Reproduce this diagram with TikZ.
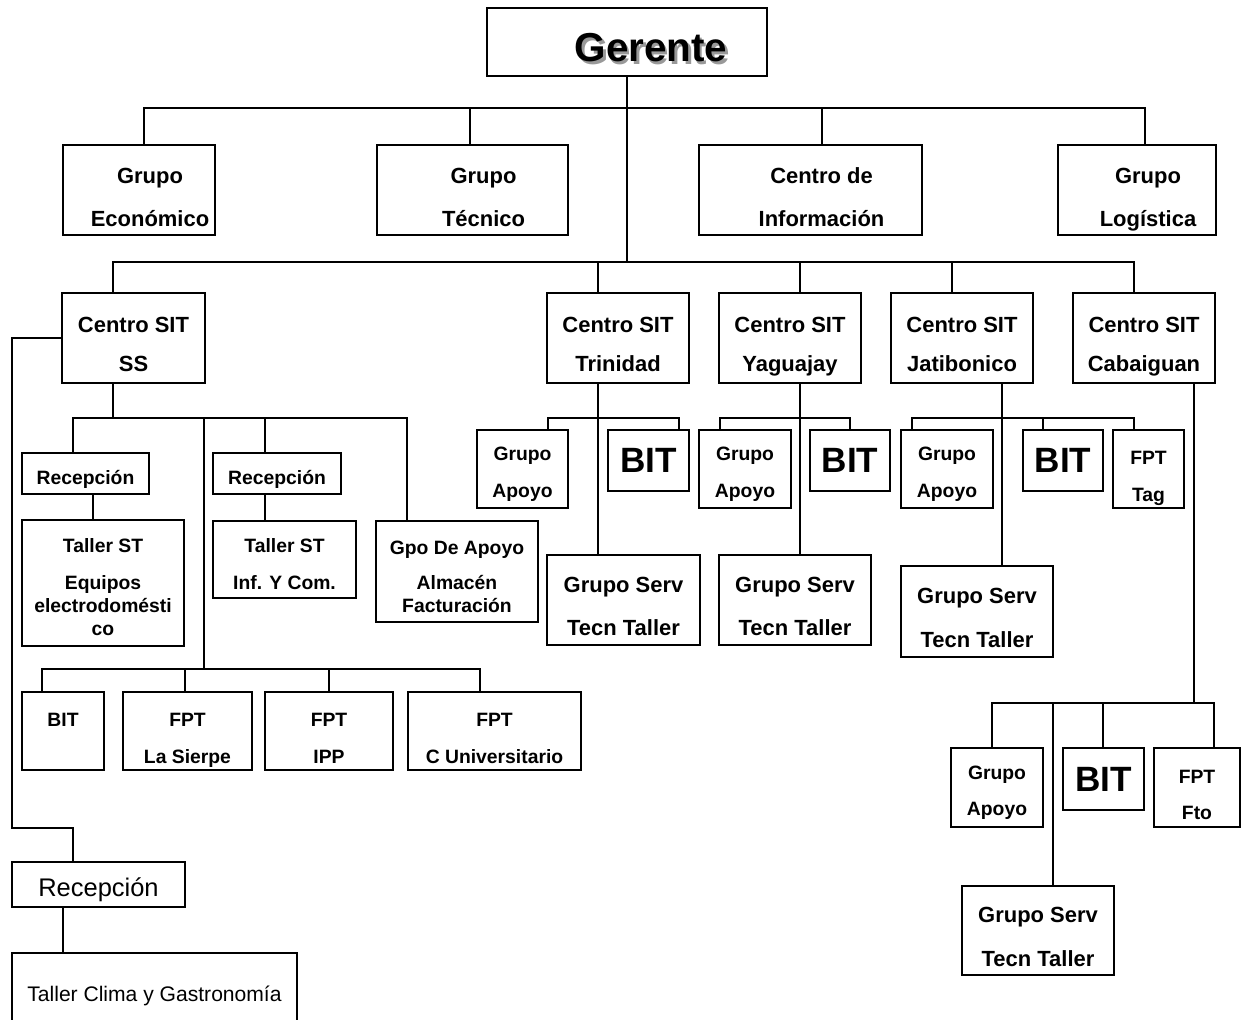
\documentclass[tikz,border=0pt]{standalone}
\usepackage{fontspec}
\setmainfont{Liberation Sans}
\newcommand{\txtpush}{\hspace*{0.44cm}}
\tikzset{
  box/.style={draw, line width=1.1pt, inner sep=0pt, align=center, text depth=0pt},
  dept/.style={box, minimum height=1.8cm, text height=41.5pt, font=\bfseries\fontsize{12.5}{24.4}\selectfont},
  centro/.style={box, minimum width=2.84cm, minimum height=1.8cm, text height=38.6pt, font=\bfseries\fontsize{12.5}{22.7}\selectfont},
  smallbox/.style={box, text height=12.5pt, font=\bfseries\fontsize{11}{21}\selectfont},
  servbox/.style={box, minimum width=3.04cm, minimum height=1.8cm, text height=40.9pt, font=\bfseries\fontsize{12.5}{25}\selectfont},
  apoyo/.style={smallbox, minimum width=1.84cm, minimum height=1.56cm, text height=32.4pt},
  bitbox/.style={box, minimum width=1.6cm, minimum height=1.22cm, font=\bfseries\fontsize{20}{20}\selectfont},
  fptbox/.style={smallbox, minimum height=1.56cm, text height=36.9pt},
}
\begin{document}
\begin{tikzpicture}[x=0.02cm, y=-0.02cm, line width=1.1pt]
  \useasboundingbox (0,0) rectangle (1250,1019);
  % gerencia
  \node[text=black!40, text depth=0pt, text height=22.4pt, minimum height=1.36cm, inner sep=0pt, font=\bfseries\fontsize{23}{23}\selectfont] (gersh) at (629.5,44.5) {\hspace*{0.96cm}Gerente};
  \node[box, minimum width=5.6cm, minimum height=1.36cm, text height=22.4pt, font=\bfseries\fontsize{23}{23}\selectfont] (ger) at (627,42) {\hspace*{0.96cm}Gerente};
  \node[dept, minimum width=3.04cm] (eco) at (139,190) {\txtpush Grupo\\\txtpush Económico};
  \node[dept, minimum width=3.82cm] (tec) at (472.5,190) {\txtpush Grupo\\\txtpush Técnico};
  \node[dept, minimum width=4.46cm] (inf) at (810.5,190) {\txtpush Centro de\\\txtpush Información};
  \node[dept, minimum width=3.16cm] (log) at (1137,190) {\txtpush Grupo\\\txtpush Logística};
  % centros
  \node[centro, minimum width=2.86cm] (ss) at (133.5,338) {Centro SIT\\SS};
  \node[centro] (tri) at (618,338) {Centro SIT\\Trinidad};
  \node[centro] (yag) at (790,338) {Centro SIT\\Yaguajay};
  \node[centro] (jat) at (962,338) {Centro SIT\\Jatibonico};
  \node[centro] (cab) at (1144,338) {Centro SIT\\Cabaiguan};
  % SS
  \node[smallbox, minimum width=2.54cm, minimum height=0.82cm] (rec1) at (85.5,473.5) {Recepción};
  \node[smallbox, minimum width=3.24cm, minimum height=2.52cm, text height=59.6pt, font=\bfseries\fontsize{11}{13}\selectfont] (tal1) at (103,583) {Taller ST\\[8pt]Equipos\\electrodomésti\\co};
  \node[smallbox, minimum width=2.56cm, minimum height=0.82cm] (rec2) at (277,473.5) {Recepción};
  \node[smallbox, minimum width=2.86cm, minimum height=1.54cm, text height=33.6pt] (tal2) at (284.5,559.5) {Taller ST\\Inf. Y Com.};
  \node[smallbox, minimum width=3.24cm, minimum height=2.02cm, text height=47pt, font=\bfseries\fontsize{11}{13}\selectfont] (gpo) at (457,571.5) {Gpo De Apoyo\\[7.4pt]Almacén\\Facturación};
  \node[fptbox, minimum width=1.64cm] (bit0) at (63,731) {BIT\\\mbox{}};
  \node[fptbox, minimum width=2.58cm] (sie) at (187.5,731) {FPT\\La Sierpe};
  \node[fptbox, minimum width=2.56cm] (ipp) at (329,731) {FPT\\IPP};
  \node[fptbox, minimum width=3.46cm] (cu) at (494.5,731) {FPT\\C Universitario};
  \node[box, minimum width=3.46cm, minimum height=0.9cm, text height=13.9pt, font=\fontsize{14.5}{14.5}\selectfont] (rec3) at (98.5,884.5) {Recepción};
  \node[box, minimum width=5.7cm, minimum height=1.44cm, text height=14.4pt, font=\fontsize{12}{12}\selectfont] (clima) at (154.5,989) {Taller Clima y Gastronomía};
  % Trinidad
  \node[apoyo, minimum width=1.82cm] (apT) at (522.5,469) {Grupo\\Apoyo};
  \node[bitbox, minimum width=1.62cm] (bitT) at (648.5,460.5) {BIT};
  \node[servbox, minimum width=3.06cm] (srvT) at (623.5,600) {Grupo Serv\\Tecn Taller};
  % Yaguajay
  \node[apoyo] (apY) at (745,469) {Grupo\\Apoyo};
  \node[bitbox] (bitY) at (850,460.5) {BIT};
  \node[servbox] (srvY) at (795,600) {Grupo Serv\\Tecn Taller};
  % Jatibonico
  \node[apoyo] (apJ) at (947,469) {Grupo\\Apoyo};
  \node[bitbox] (bitJ) at (1063,460.5) {BIT};
  \node[fptbox, minimum width=1.42cm] (tag) at (1148.5,469) {FPT\\Tag};
  \node[servbox, minimum height=1.82cm] (srvJ) at (977,611.5) {Grupo Serv\\Tecn Taller};
  % Cabaiguan
  \node[apoyo, minimum height=1.58cm] (apC) at (997,787.5) {Grupo\\Apoyo};
  \node[bitbox, minimum width=1.62cm, minimum height=1.24cm] (bitC) at (1103.5,779) {BIT};
  \node[fptbox, minimum width=1.72cm, minimum height=1.58cm] (fto) at (1197,787.5) {FPT\\Fto};
  \node[servbox, minimum height=1.78cm] (srvC) at (1038,930.5) {Grupo Serv\\Tecn Taller};

  % lineas
  \coordinate (bar1) at (627,108);
  \coordinate (bar2) at (627,262);
  \draw (ger.south) -- (bar2);
  \draw ([xshift=0.1cm]eco.north) |- (bar1) -| ([xshift=0.16cm]log.north);
  \draw (bar1) -| ([xshift=-0.05cm]tec.north);
  \draw (bar1) -| ([xshift=0.23cm]inf.north);
  \draw ([xshift=-0.41cm]ss.north) |- (bar2) -| ([xshift=-0.2cm]cab.north);
  \draw (bar2) -| ([xshift=-0.4cm]tri.north);
  \draw (bar2) -| ([xshift=0.2cm]yag.north);
  \draw (bar2) -| ([xshift=-0.2cm]jat.north);

  \coordinate (ssbar) at (113,418);
  \coordinate (ssdrop) at (204,418);
  \coordinate (fptbar) at (204,669);
  \coordinate (lft) at (12,828);
  \draw ([xshift=-0.41cm]ss.south) -- (ssbar);
  \draw ([xshift=-0.25cm]rec1.north) |- (ssbar) -| ([xshift=-1.0cm]gpo.north);
  \draw (ssbar) -| ([xshift=-0.24cm]rec2.north);
  \draw ([xshift=0.15cm]rec1.south) -- ([xshift=-0.2cm]tal1.north);
  \draw ([xshift=-0.24cm]rec2.south) -- ([xshift=-0.39cm]tal2.north);
  \draw (ssdrop) -- (fptbar);
  \draw ([xshift=-0.42cm]bit0.north) |- (fptbar) -| ([xshift=-0.29cm]cu.north);
  \draw (fptbar) -| ([xshift=-0.05cm]sie.north);
  \draw (fptbar) -| (ipp.north);
  \draw (ss.west) -| (lft) -| ([xshift=-0.51cm]rec3.north);
  \draw ([xshift=-0.71cm]rec3.south) -- ([xshift=-1.83cm]clima.north);

  \coordinate (trbar) at (598,418);
  \draw ([xshift=-0.4cm]tri.south) -- ([xshift=-0.51cm]srvT.north);
  \draw ([xshift=0.51cm]apT.north) |- (trbar) -| ([xshift=0.61cm]bitT.north);

  \coordinate (yabar) at (800,418);
  \draw ([xshift=0.2cm]yag.south) -- ([xshift=0.1cm]srvY.north);
  \draw ([xshift=-0.5cm]apY.north) |- (yabar) -| (bitY.north);

  \coordinate (jabar) at (1002,418);
  \draw ([xshift=0.8cm]jat.south) -- ([xshift=0.5cm]srvJ.north);
  \draw ([xshift=-0.7cm]apJ.north) |- (jabar) -| ([xshift=-0.29cm]tag.north);
  \draw (jabar) -| ([xshift=-0.4cm]bitJ.north);

  \coordinate (cabar) at (1194,703);
  \draw ([xshift=1.0cm]cab.south) -- (cabar);
  \draw ([xshift=-0.1cm]apC.north) |- (cabar) -| ([xshift=0.34cm]fto.north);
  \draw (cabar) -| ([xshift=-0.01cm]bitC.north);
  \draw ([xshift=0.3cm]srvC.north) |- (cabar);
\end{tikzpicture}
\end{document}
